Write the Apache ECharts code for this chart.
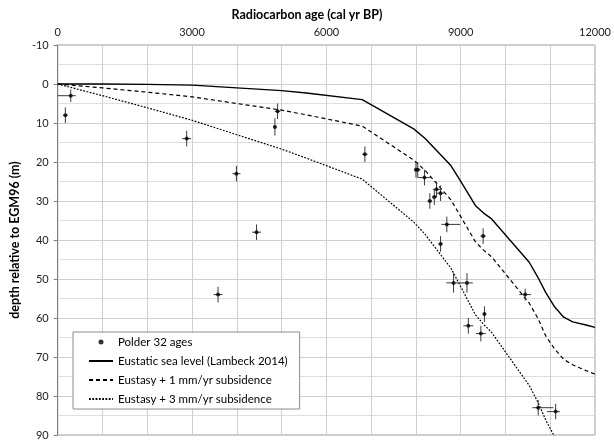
<!DOCTYPE html>
<html>
<head>
<meta charset="utf-8">
<script src="https://cdn.jsdelivr.net/npm/echarts@6/dist/echarts.min.js"></script>
<style>
  html, body { margin: 0; padding: 0; background: #fff; }
  #chart { width: 614px; height: 441px; }
</style>
</head>
<body>
<div id="chart"></div>
<script>
// Polder 32 radiocarbon ages (cal yr BP) and depths (m)
var ages = [170, 290, 2880, 3990, 4440, 3580, 4910, 4850, 6860, 8000, 8040, 8190, 8460, 8550, 8410, 8310, 8690, 8550, 9500, 8840, 9140, 10440, 9530, 9170, 9450, 10730, 11120];
var depths = [8, 3, 14, 23, 38, 54, 7, 11, 18, 22, 22, 24, 27, 28, 29, 30, 36, 41, 39, 51, 51, 54, 59, 62, 64, 83, 84];
var ageErrLo = [55, 290, 100, 90, 100, 100, 60, 40, 60, 40, 60, 150, 80, 80, 50, 50, 120, 50, 60, 160, 80, 130, 40, 110, 110, 130, 196];
var ageErrHi = [55, 110, 100, 90, 100, 100, 60, 40, 60, 40, 60, 150, 80, 80, 50, 50, 300, 50, 60, 240, 130, 130, 40, 110, 110, 340, 95];
var depthErr = [2, 1.6, 2, 2, 2, 2, 2, 2.2, 2, 2, 2, 2, 2, 2, 2, 2, 2, 2, 2, 2.5, 2.5, 1.5, 2, 2, 2, 2, 2];

// curves
var curveAges = [0, 1000, 2000, 3000, 4000, 5000, 5550, 6800, 7950, 8200, 8780, 8970, 9330, 9510, 9690, 10530, 10720, 10900, 11100, 11300, 11500, 11800, 12000];
var eustatic = [0, 0, 0.1, 0.3, 1.0, 1.7, 2.3, 4.0, 11.5, 13.9, 20.9, 24.4, 31.2, 33.1, 34.6, 45.7, 49.5, 53.5, 57.2, 59.8, 61.0, 61.8, 62.4];
var subs1 = [0, 1.0, 2.1, 3.3, 5.0, 6.7, 7.9, 10.8, 19.5, 22.1, 29.7, 33.4, 40.5, 42.6, 44.3, 56.2, 60.0, 64.6, 68.0, 70.6, 72.0, 73.5, 74.4];
var subs3 = [0, 3.0, 6.1, 9.3, 13.0, 16.7, 19.0, 24.4, 35.4, 38.5, 47.2, 51.3, 59.2, 61.6, 63.7, 77.3, 81.5, 86.2, 90.5, 93.7, 95.5, 97.2, 98.4];

var names = ['Polder 32 ages', 'Eustatic sea level (Lambeck 2014)', 'Eustasy + 1 mm/yr subsidence', 'Eustasy + 3 mm/yr subsidence'];

var fontFam = 'Lato, "Open Sans", sans-serif';

function pairs(xs, ys) {
    return xs.map(function (x, i) { return [x, ys[i]]; });
}

var errData = ages.map(function (a, i) {
    return [a, depths[i], a - ageErrLo[i], a + ageErrHi[i], depths[i] - depthErr[i], depths[i] + depthErr[i]];
});

// hide the circle that line series put in the middle of their legend icon
var noDot = { color: 'rgba(0,0,0,0)', borderWidth: 0 };

var myChart = echarts.init(document.getElementById('chart'));

myChart.setOption({
    animation: false,
    textStyle: { fontFamily: fontFam },
    title: {
        text: 'Radiocarbon age (cal yr BP)',
        left: 'center',
        top: 3,
        textStyle: { fontSize: 12.5, fontWeight: 'bold', color: '#000', fontFamily: fontFam }
    },
    grid: {
        left: 45,
        right: 17,
        top: 45,
        bottom: 6,
        show: true,
        borderColor: '#9a9a9a',
        borderWidth: 1
    },
    legend: {
        orient: 'vertical',
        left: 73,
        top: 332,
        padding: [4, 12, 4, 15],
        itemGap: 7,
        itemWidth: 24,
        itemHeight: 5,
        backgroundColor: '#fff',
        borderColor: '#8c8c8c',
        borderWidth: 1,
        textStyle: { fontSize: 11.5, color: '#000', fontFamily: fontFam },
        data: [
            { name: names[0], icon: 'circle' },
            { name: names[1], itemStyle: noDot },
            { name: names[2], itemStyle: noDot },
            { name: names[3], itemStyle: noDot }
        ]
    },
    xAxis: {
        type: 'value',
        position: 'top',
        min: 0,
        max: 12000,
        interval: 1000,
        axisLine: { show: false },
        axisTick: { show: false },
        axisLabel: {
            fontSize: 11,
            color: '#222',
            margin: 7,
            formatter: function (v) { return v % 3000 === 0 ? String(v) : ''; }
        },
        splitLine: { lineStyle: { color: '#d0d0d0', width: 1 } }
    },
    yAxis: {
        type: 'value',
        inverse: true,
        min: -10,
        max: 90,
        interval: 10,
        name: 'depth relative to EGM96 (m)',
        nameLocation: 'middle',
        nameRotate: 90,
        nameGap: 32,
        nameTextStyle: { fontSize: 12.5, fontWeight: 'bold', color: '#000', fontFamily: fontFam },
        axisLine: { show: true, lineStyle: { color: '#7f7f7f' } },
        axisTick: { show: true, inside: false, length: 4, lineStyle: { color: '#7f7f7f' } },
        axisLabel: { fontSize: 11, color: '#222', margin: 9 },
        splitLine: { lineStyle: { color: '#cfcfcf', width: 1 } },
        minorTick: { show: false, splitNumber: 2 },
        minorSplitLine: { show: true, lineStyle: { color: '#dedede', width: 1 } }
    },
    series: [
        {
            name: names[0],
            type: 'scatter',
            symbol: 'circle',
            symbolSize: 4,
            itemStyle: { color: '#000' },
            data: pairs(ages, depths),
            z: 5
        },
        {
            name: 'errors',
            type: 'custom',
            data: errData,
            renderItem: function (params, api) {
                var c = api.coord([api.value(0), api.value(1)]);
                var xl = api.coord([api.value(2), api.value(1)]);
                var xh = api.coord([api.value(3), api.value(1)]);
                var yl = api.coord([api.value(0), api.value(4)]);
                var yh = api.coord([api.value(0), api.value(5)]);
                var st = { stroke: '#3a3a3a', lineWidth: 1 };
                return {
                    type: 'group',
                    children: [
                        { type: 'line', shape: { x1: xl[0], y1: c[1], x2: xh[0], y2: c[1] }, style: st },
                        { type: 'line', shape: { x1: c[0], y1: yl[1], x2: c[0], y2: yh[1] }, style: st }
                    ]
                };
            },
            z: 4
        },
        {
            name: names[1],
            type: 'line',
            symbol: 'none',
            lineStyle: { color: '#000', width: 1.4, type: 'solid' },
            itemStyle: { color: '#000' },
            data: pairs(curveAges, eustatic)
        },
        {
            name: names[2],
            type: 'line',
            symbol: 'none',
            lineStyle: { color: '#000', width: 1.2, type: [4, 3] },
            itemStyle: { color: '#000' },
            data: pairs(curveAges, subs1)
        },
        {
            name: names[3],
            type: 'line',
            symbol: 'none',
            clip: true,
            lineStyle: { color: '#000', width: 1.2, type: [1.8, 1.5] },
            itemStyle: { color: '#000' },
            data: pairs(curveAges, subs3)
        }
    ]
});
</script>
</body>
</html>
